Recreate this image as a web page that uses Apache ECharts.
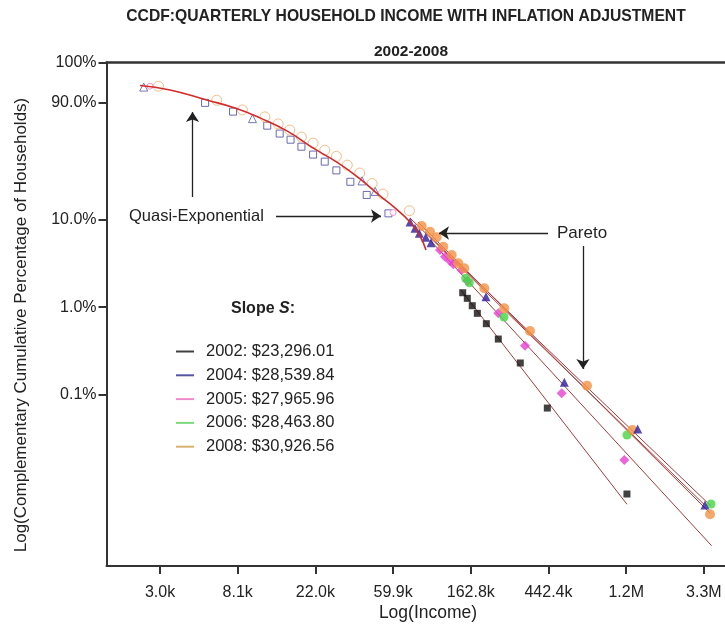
<!DOCTYPE html>
<html>
<head>
<meta charset="utf-8">
<script src="https://cdn.jsdelivr.net/npm/echarts@6/dist/echarts.min.js"></script>
<style>
  html, body { margin: 0; padding: 0; background: #fff; }
  #chart { width: 725px; height: 627px; }
</style>
</head>
<body>
<div id="chart"></div>
<script>
// x values: ln(income). y values: position on the log-percentage (CCDF) scale.
const xTickValues = [8, 9, 10, 11, 12, 13, 14, 15];
const xTickLabels = ['3.0k', '8.1k', '22.0k', '59.9k', '162.8k', '442.4k', '1.2M', '3.3M'];
const yTickValues = [2.7925, 2.3318, 1, 0, -1];
const yTickLabels = ['100%', '90.0%', '10.0%', '1.0%', '0.1%'];

const years = ['2002', '2004', '2005', '2006', '2008'];
const slopes = ['$23,296.01', '$28,539.84', '$27,965.96', '$28,463.80', '$30,926.56'];

// quasi-exponential body of the distribution (open markers)
const bodySquares = [[8.58, 2.33], [8.94, 2.23], [9.38, 2.07], [9.54, 1.98], [9.68, 1.91], [9.82, 1.83],
  [9.97, 1.74], [10.12, 1.66], [10.27, 1.56], [10.45, 1.43], [10.66, 1.28], [10.94, 1.07]];
const bodyCircles = [[7.98, 2.52], [8.73, 2.36], [9.06, 2.25], [9.35, 2.17], [9.52, 2.09], [9.67, 2.02],
  [9.82, 1.94], [9.97, 1.87], [10.12, 1.79], [10.27, 1.72], [10.41, 1.62], [10.57, 1.53], [10.73, 1.41],
  [10.87, 1.29], [11.21, 1.10]];
const bodyTriangles = [[7.79, 2.51], [9.19, 2.15], [10.60, 1.44], [10.77, 1.32]];
const bodyPink = [[7.87, 2.52], [11.0, 1.08]];

// exponential fit through the body
const expFit = [[7.743, 2.528], [8.129, 2.477], [8.601, 2.363], [8.965, 2.271], [9.287, 2.159],
  [9.634, 2.010], [9.969, 1.816], [10.291, 1.645], [10.574, 1.463], [10.831, 1.269], [11.024, 1.132],
  [11.218, 0.971], [11.346, 0.812], [11.423, 0.652]];

// Pareto tail, by year
const tail2002 = [[11.896, 0.165], [11.955, 0.101], [12.019, 0.017], [12.084, -0.070], [12.200, -0.188],
  [12.354, -0.363], [12.637, -0.636], [12.985, -1.150], [14.010, -2.130]];
const tail2004 = [[11.218, 0.971], [11.282, 0.899], [11.337, 0.842], [11.420, 0.797], [11.488, 0.735],
  [12.196, 0.120], [13.204, -0.856], [14.148, -1.389], [15.014, -2.255]];
const tail2005 = [[11.604, 0.652], [11.668, 0.576], [11.732, 0.527], [11.775, 0.489], [11.883, 0.424],
  [11.955, 0.299], [12.354, -0.070], [12.698, -0.439], [13.170, -0.982], [13.976, -1.742]];
const tail2006 = [[11.934, 0.330], [11.981, 0.279], [12.427, -0.112], [14.010, -1.457], [15.092, -2.244]];
const tail2008 = [[11.368, 0.926], [11.475, 0.861], [11.561, 0.797], [11.646, 0.690], [11.754, 0.595],
  [11.839, 0.501], [11.916, 0.444], [12.174, 0.216], [12.431, -0.013], [12.762, -0.271], [13.496, -0.895],
  [14.079, -1.400], [15.079, -2.361]];

// Pareto fit lines (end points)
const fit2002 = [[11.870, 0.200], [14.010, -2.247]];
const fit2004 = [[11.218, 1.017], [15.001, -2.247]];
const fit2005 = [[11.475, 0.766], [15.100, -2.720]];
const fit2006 = [[11.411, 0.860], [15.092, -2.268]];
const fit2008 = [[11.320, 0.971], [15.079, -2.347]];

// annotation arrows, [from, to]
const arrows = [
  [[9.493, 1.040], [10.844, 1.040]],
  [[8.418, 1.257], [8.418, 2.226]],
  [[12.994, 0.846], [11.591, 0.846]],
  [[13.444, 0.697], [13.444, -0.706]]
];

const FONT = "'Liberation Sans', Arial, sans-serif";
const TEXT = '#222';
const legendColors = ['#111111', '#2b2b8f', '#ee6fbf', '#5fcf5f', '#cf9f4f'];
const legendNames = years.map((y, i) => y + ': ' + slopes[i]);

const chart = echarts.init(document.getElementById('chart'), null, { renderer: 'canvas' });

function fitLine(data) {
  return {
    type: 'line', data: data, showSymbol: false, silent: true, z: 2,
    lineStyle: { color: '#a63a3a', width: 1 }
  };
}
function markers(name, data, symbol, size, color, open) {
  return {
    type: 'scatter', name: name, data: data, symbol: symbol, symbolSize: size, z: 3,
    itemStyle: open ? { color: '#fff', borderColor: color, borderWidth: 1, opacity: 0.9 } : { color: color }
  };
}

const option = {
  animation: false,
  textStyle: { fontFamily: FONT },
  grid: { left: 106.5, right: 0, top: 62.3, bottom: 61 },
  xAxis: [{
    type: 'value', min: 7.311, max: 15.272,
    axisLine: { show: true, onZero: false, lineStyle: { color: '#333', width: 2 } },
    axisTick: { show: true, customValues: xTickValues, length: 8, lineStyle: { color: '#333', width: 2 } },
    axisLabel: {
      customValues: xTickValues, fontSize: 16, color: TEXT, margin: 19, fontFamily: FONT,
      formatter: v => xTickLabels[xTickValues.findIndex(t => Math.abs(t - v) < 1e-6)]
    },
    splitLine: { show: false }
  }, {
    type: 'value', position: 'top', min: 7.311, max: 15.272,
    axisLine: { show: true, onZero: false, lineStyle: { color: '#333', width: 2.5 } },
    axisTick: { show: false }, axisLabel: { show: false }, splitLine: { show: false }
  }],
  yAxis: {
    type: 'value', min: -2.951, max: 2.7925,
    axisLine: { show: true, onZero: false, lineStyle: { color: '#333', width: 2 } },
    axisTick: { show: true, customValues: yTickValues, length: 8, lineStyle: { color: '#333', width: 2 } },
    axisLabel: {
      customValues: yTickValues, fontSize: 16, color: TEXT, margin: 10, fontFamily: FONT,
      formatter: v => yTickLabels[yTickValues.findIndex(t => Math.abs(t - v) < 1e-6)]
    },
    splitLine: { show: false }
  },
  legend: {
    orient: 'vertical', left: 171, top: 338, icon: 'rect', itemWidth: 18, itemHeight: 2, itemGap: 6.8,
    selectedMode: false,
    textStyle: { fontSize: 16.5, color: TEXT, fontFamily: FONT, lineHeight: 16, padding: [0, 0, 0, 7] },
    data: legendNames.map((n, i) => ({ name: n, itemStyle: { color: legendColors[i] } }))
  },
  graphic: [
    { type: 'text', x: 406, y: 17, silent: true,
      style: { text: 'CCDF:QUARTERLY HOUSEHOLD INCOME WITH INFLATION ADJUSTMENT', fill: TEXT,
        font: 'bold 15.7px ' + FONT, align: 'center', verticalAlign: 'middle' } },
    { type: 'text', x: 411, y: 52, silent: true,
      style: { text: '2002-2008', fill: TEXT, font: 'bold 15.5px ' + FONT, align: 'center', verticalAlign: 'middle' } },
    { type: 'text', x: 21, y: 325, rotation: Math.PI / 2, silent: true,
      style: { text: 'Log(Complementary Cumulative Percentage of Households)', fill: TEXT,
        font: '17px ' + FONT, align: 'center', verticalAlign: 'middle' } },
    { type: 'text', x: 428, y: 613, silent: true,
      style: { text: 'Log(Income)', fill: TEXT, font: '17.5px ' + FONT, align: 'center', verticalAlign: 'middle' } },
    { type: 'text', x: 129, y: 216, silent: true,
      style: { text: 'Quasi-Exponential', fill: TEXT, font: '16.5px ' + FONT, align: 'left', verticalAlign: 'middle' } },
    { type: 'text', x: 557, y: 233, silent: true,
      style: { text: 'Pareto', fill: TEXT, font: '17px ' + FONT, align: 'left', verticalAlign: 'middle' } },
    { type: 'text', x: 263, y: 309, silent: true,
      style: { text: '{b|Slope }{i|S}{b|:}', align: 'center', verticalAlign: 'middle',
        rich: {
          b: { fontWeight: 'bold', fontSize: 16, fontFamily: FONT, fill: TEXT },
          i: { fontWeight: 'bold', fontStyle: 'italic', fontSize: 16, fontFamily: FONT, fill: TEXT }
        } } }
  ],
  series: [
    fitLine(fit2002), fitLine(fit2004), fitLine(fit2005), fitLine(fit2006), fitLine(fit2008),
    {
      type: 'line', data: expFit, smooth: true, showSymbol: false, silent: true, z: 4,
      lineStyle: { color: '#d42a2a', width: 1.6 }
    },
    markers('body-squares', bodySquares, 'rect', 7, '#5a5aa8', true),
    markers('body-circles', bodyCircles, 'circle', 10, '#f2b47a', true),
    markers('body-triangles', bodyTriangles, 'triangle', 8, '#6a6ab0', true),
    markers('body-pink', bodyPink, 'circle', 6, '#ee88cc', true),
    markers(legendNames[0], tail2002, 'rect', 7, '#111111', false),
    markers(legendNames[2], tail2005, 'diamond', 10, '#e63fd2', false),
    markers(legendNames[3], tail2006, 'circle', 9, '#43d643', false),
    markers(legendNames[4], tail2008, 'circle', 10, '#f39244', false),
    markers(legendNames[1], tail2004, 'triangle', 9, '#2c1d9e', false),
    {
      type: 'lines', coordinateSystem: 'cartesian2d', silent: true, z: 5,
      symbol: ['none', 'arrow'], symbolSize: 10,
      lineStyle: { color: '#222', width: 1.3, opacity: 1, curveness: 0 },
      data: arrows.map(a => ({ coords: a }))
    }
  ]
};
chart.setOption(option);
</script>
</body>
</html>
